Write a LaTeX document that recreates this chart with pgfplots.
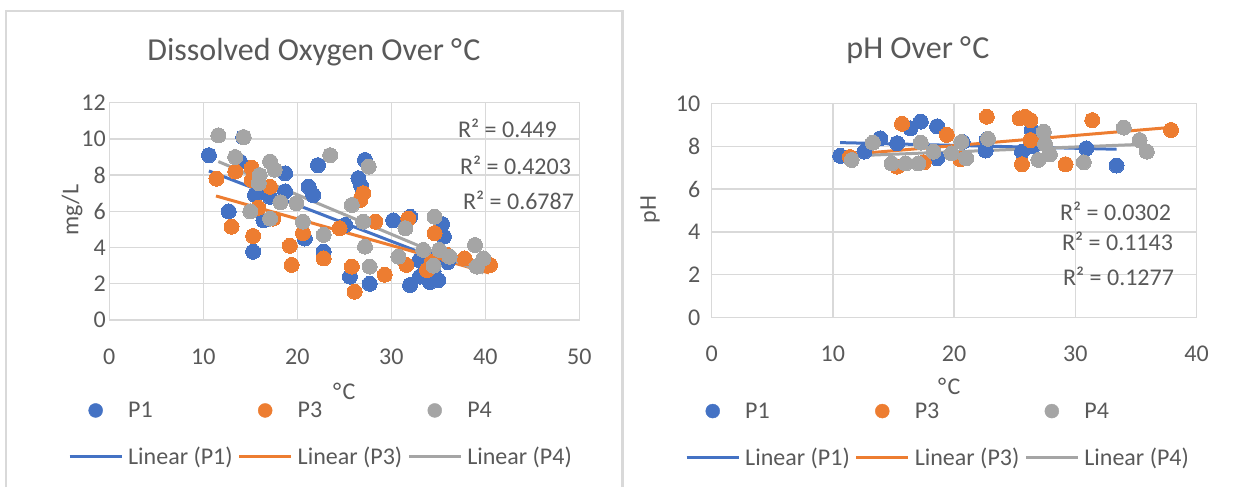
\documentclass[border=0pt]{standalone}
\usepackage{pgfplots}
\pgfplotsset{compat=1.18}
\usepackage{fontspec}
\setmainfont{Carlito}

\definecolor{p1}{HTML}{4472C4}
\definecolor{p3}{HTML}{ED7D31}
\definecolor{p4}{HTML}{A5A5A5}
\definecolor{gridc}{HTML}{D9D9D9}
\definecolor{txt}{HTML}{595959}

\newcommand{\fs}{\fontsize{24}{29}\selectfont}
\newcommand{\degC}{°\kern1.5pt C}

\pgfplotsset{
  xlchart/.style={
    scale only axis,
    xmin=0, ymin=0,
    axis line style={gridc, line width=1.3pt},
    grid=major,
    major grid style={gridc, line width=1.3pt},
    major tick length=0pt,
    tick label style={font=\fs, text=txt},
    xticklabel style={yshift=-25pt},
    label style={font=\fs, text=txt},
    /pgf/number format/assume math mode=true,
    clip=false,
    legend columns=3,
    legend cell align=left,
    legend style={draw=none, fill=none, font=\fs, text=txt,
      inner sep=0pt, nodes={inner sep=0pt},
      column sep=5pt, row sep=28pt, anchor=north west},
  },
  dots/.style={only marks, mark=*, mark size=7.5pt, color=#1,
    mark options={draw=#1, fill=#1, line width=0pt},
    legend image code/.code={\fill[#1] (26pt,0pt) circle (7pt);}},
  trend/.style={no marks, line width=3pt, color=#1,
    legend image code/.code={\draw[#1, line width=3pt] (0pt,0pt) -- (52pt,0pt);}},
}

\begin{document}
\begin{tikzpicture}
\path[use as bounding box] (0pt,0pt) rectangle (1233pt,487pt);

% chart frames
\draw[gridc, line width=1.5pt] (6pt,0pt) -- (6pt,476pt) -- (622pt,476pt);
\draw[gridc, line width=3pt] (622pt,0pt) -- (622pt,477pt);

% titles
\node[font=\fontsize{32}{38}\selectfont, text=txt] at (314pt,435pt) {Dissolved Oxygen Over \degC};
\node[font=\fontsize{32}{38}\selectfont, text=txt] at (918pt,437pt) {pH Over \degC};

% ---------- dissolved oxygen ----------
\begin{axis}[xlchart,
  at={(109.3pt,167pt)}, anchor=south west,
  width=470pt, height=217.3pt,
  xmax=50, ymax=12,
  xtick={0,10,...,50}, ytick={0,2,...,12},
  xlabel={\degC}, ylabel={mg/L},
  xlabel style={at={(axis description cs:0.5,-0.33)}, anchor=center},
  ylabel style={at={(axis description cs:-0.079,0.506)}, anchor=center},
  legend style={at={(axis description cs:-0.088,-0.376)}},
]
\addplot[dots=p1] coordinates {
 (10.6,9.1) (14.25,10.1) (13.9,8.75) (18.7,8.1) (21.2,7.36) (21.7,6.9)
 (22.2,8.55) (12.7,6.0) (15.5,6.9) (17.1,6.8) (16.4,5.5) (15.3,3.77)
 (20.8,4.5) (22.8,3.77) (18.7,7.1) (27.2,8.84) (26.5,7.83) (26.8,7.4)
 (25.1,5.25) (30.2,5.5) (32.0,5.7) (32.0,1.93) (34.1,2.1) (35.0,2.2)
 (35.4,5.3) (35.6,4.6) (25.6,2.4) (27.7,2.0) (33.05,2.4) (33.0,3.3)
 (33.7,2.9) (33.7,3.6) (36.0,3.2) (34.5,2.7)
};
\addlegendentry{P1}
\addplot[dots=p3] coordinates {
 (11.4,7.8) (13.4,8.2) (15.15,8.4) (15.15,7.73) (17.1,7.36) (15.85,6.2)
 (17.45,5.6) (13.0,5.15) (15.3,4.64) (19.2,4.1) (19.4,3.04) (20.6,4.8)
 (22.8,3.4) (24.5,5.07) (27.0,7.0) (26.7,6.63) (28.3,5.43) (25.8,2.95)
 (29.3,2.5) (26.1,1.56) (31.8,5.6) (31.6,3.04) (34.6,4.8) (33.8,2.76)
 (35.9,3.6) (37.8,3.4) (40.5,3.04) (34.3,3.2)
};
\addlegendentry{P3}
\addplot[dots=p4] coordinates {
 (11.6,10.2) (14.3,10.1) (13.4,9.0) (17.1,8.75) (17.6,8.3) (16.0,8.0)
 (15.9,7.55) (15.0,6.0) (17.1,5.6) (18.2,6.5) (19.9,6.45) (20.6,5.43)
 (22.8,4.7) (23.5,9.1) (27.6,8.47) (25.8,6.35) (27.0,5.43) (27.2,4.05)
 (27.7,2.95) (31.5,5.07) (30.75,3.5) (34.6,5.7) (33.4,3.87) (35.1,3.87)
 (34.5,3.0) (38.9,4.14) (39.8,3.4) (39.1,2.95) (36.2,3.5)
};
\addlegendentry{P4}
\addplot[trend=p1] coordinates {(10.6,8.23) (36.0,3.15)};
\addlegendentry{Linear (P1)}
\addplot[trend=p3] coordinates {(11.35,6.85) (40.4,2.6)};
\addlegendentry{Linear (P3)}
\addplot[trend=p4] coordinates {(11.6,8.75) (39.8,2.6)};
\addlegendentry{Linear (P4)}
\end{axis}

% ---------- pH ----------
\begin{axis}[xlchart,
  at={(711.7pt,169.3pt)}, anchor=south west,
  width=484.8pt, height=214.3pt,
  xmax=40, ymax=10,
  xtick={0,10,...,40}, ytick={0,2,...,10},
  yticklabel style={xshift=-8pt},
  xlabel={\degC}, ylabel={pH},
  xlabel style={at={(axis description cs:0.49,-0.32)}, anchor=center},
  ylabel style={at={(axis description cs:-0.127,0.506)}, anchor=center},
  legend style={at={(axis description cs:-0.055,-0.395)}},
]
\addplot[dots=p1] coordinates {
 (10.6,7.55) (12.6,7.75) (13.9,8.37) (16.4,8.84) (17.25,9.15) (18.6,8.93)
 (15.3,8.14) (18.6,7.44) (20.7,8.2) (22.6,7.8) (22.7,8.3) (25.6,7.75)
 (26.4,8.76) (26.5,8.0) (30.9,7.9) (33.4,7.1)
};
\addlegendentry{P1}
\addplot[dots=p3] coordinates {
 (11.4,7.5) (15.7,9.05) (19.4,8.53) (15.3,7.05) (17.5,7.25) (20.5,7.4)
 (22.7,9.38) (25.4,9.3) (25.85,9.38) (26.3,9.22) (26.3,8.29) (25.6,7.16)
 (29.2,7.16) (31.4,9.22) (37.9,8.76)
};
\addlegendentry{P3}
\addplot[dots=p4] coordinates {
 (11.55,7.36) (13.3,8.17) (14.85,7.2) (16.0,7.2) (17.05,7.2) (17.25,8.17)
 (18.3,7.75) (19.8,7.67) (20.6,8.2) (21.0,7.44) (22.8,8.35) (26.95,7.36)
 (27.4,8.68) (27.5,8.1) (27.9,7.62) (30.7,7.25) (34.0,8.87) (35.3,8.29)
 (35.9,7.75)
};
\addlegendentry{P4}
\addplot[trend=p1] coordinates {(10.6,8.17) (33.4,7.86)};
\addlegendentry{Linear (P1)}
\addplot[trend=p3] coordinates {(11.4,7.62) (37.9,8.88)};
\addlegendentry{Linear (P3)}
\addplot[trend=p4] coordinates {(11.55,7.55) (35.9,8.1)};
\addlegendentry{Linear (P4)}
\end{axis}

% R-squared labels
\begin{scope}[every node/.style={font=\fs, text=txt, inner sep=0pt, anchor=west}]
\node at (458pt,359pt) {R² = 0.449};
\node at (460pt,322pt) {R² = 0.4203};
\node at (463pt,287pt) {R² = 0.6787};
\node at (1060pt,275.3pt) {R² = 0.0302};
\node at (1062pt,245.3pt) {R² = 0.1143};
\node at (1063pt,210.3pt) {R² = 0.1277};
\end{scope}
\end{tikzpicture}
\end{document}
